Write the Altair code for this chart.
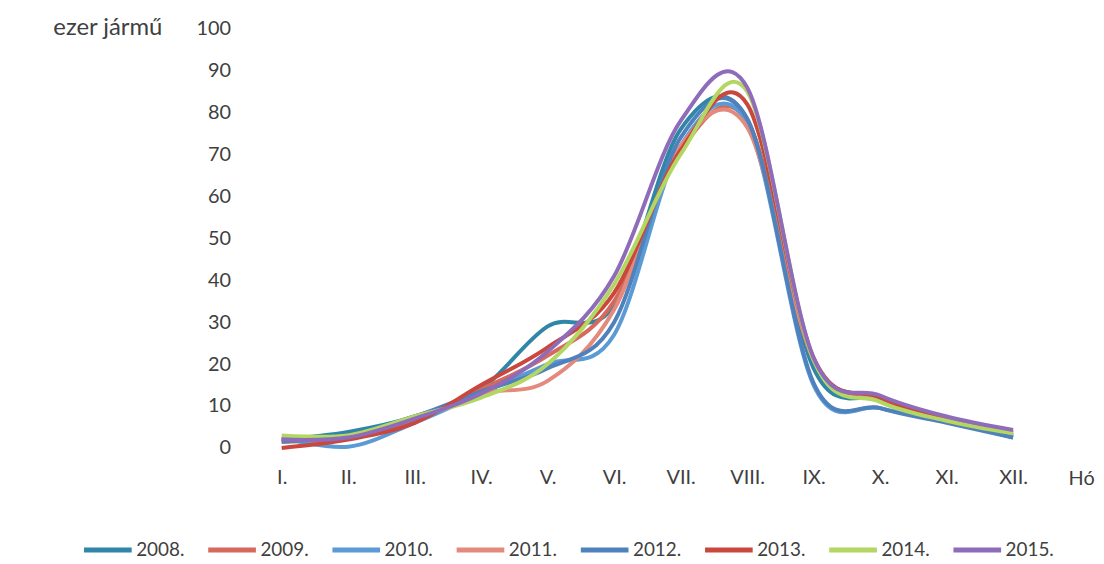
import altair as alt
import pandas as pd

months = ["I.", "II.", "III.", "IV.", "V.", "VI.", "VII.", "VIII.", "IX.", "X.", "XI.", "XII."]
years = ["2008.", "2009.", "2010.", "2011.", "2012.", "2013.", "2014.", "2015."]
colors = ["#2f86a6", "#d6695c", "#5b9bd5", "#e38a7c", "#4f81bd", "#c9473c", "#b4d663", "#8e6cba"]

v2008 = [2, 3.8, 7.5, 14, 29, 34, 76, 78.5, 19, 11.5, 6.5, 3]
v2009 = [1.5, 2.5, 6.5, 14, 22, 35, 71, 78, 21, 12, 7, 3.5]
v2010 = [2.5, 0.3, 6, 13, 20, 27, 72, 77.5, 15, 9.5, 6.5, 2.5]
v2011 = [2, 3, 7, 13, 16, 33, 72, 76.5, 21, 11.5, 6.5, 3]
v2012 = [1.5, 3, 7.5, 13.5, 19, 30, 74, 78.5, 15.5, 9.5, 6, 2.5]
v2013 = [0, 2, 6, 15, 24, 37, 71, 82, 21.5, 12, 6.5, 3.8]
v2014 = [3, 3, 7.5, 12, 20, 39, 70, 85, 21, 11, 6.5, 3.5]
v2015 = [2, 2.5, 7, 13, 23, 41, 78, 86, 21.5, 12.5, 7.5, 4.3]

series = [v2008, v2009, v2010, v2011, v2012, v2013, v2014, v2015]
rows = []
for y, vals in zip(years, series):
    for m, v in zip(months, vals):
        rows.append({"year": y, "month": m, "value": v})
df = pd.DataFrame(rows)

FONT = "Lato"
TXT = "#404040"

chart = alt.Chart(df).mark_line(interpolate="cardinal", strokeWidth=4).encode(
    x=alt.X("month:N", sort=months,
            scale=alt.Scale(type="point", padding=0.5),
            axis=alt.Axis(title="Hó", domain=False, ticks=False, grid=False, labelAngle=0,
                          labelPadding=20, labelFont=FONT, labelFontSize=20, labelColor=TXT,
                          titleFont=FONT, titleFontSize=20, titleFontWeight="normal", titleColor=TXT,
                          titleX=838, titleY=31, titleBaseline="middle", titleAlign="center")),
    y=alt.Y("value:Q", scale=alt.Scale(domain=[0, 100]),
            axis=alt.Axis(title="ezer jármű", values=list(range(0, 101, 10)), domain=False, ticks=False,
                          grid=False, labelPadding=18, labelFont=FONT, labelFontSize=20, labelColor=TXT,
                          titleFont=FONT, titleFontSize=24, titleFontWeight="normal", titleColor=TXT,
                          titleAngle=0, titleX=-142, titleY=-1, titleBaseline="middle", titleAlign="center")),
    color=alt.Color("year:N", scale=alt.Scale(domain=years, range=colors),
                    legend=alt.Legend(title=None, orient="none", direction="horizontal",
                                      legendX=-168, legendY=498, symbolType="stroke",
                                      symbolStrokeWidth=5, symbolSize=2300, labelFont=FONT,
                                      labelFontSize=19, labelColor=TXT, labelOffset=2,
                                      columnPadding=13)),
).properties(
    width=803, height=422,
    autosize=alt.AutoSizeParams(type="none"),
    padding={"left": 242, "top": 19, "right": 50, "bottom": 112},
    background="white",
).configure_view(strokeWidth=0)

chart.save("out.html", embed_options={"renderer": "svg", "actions": False})
